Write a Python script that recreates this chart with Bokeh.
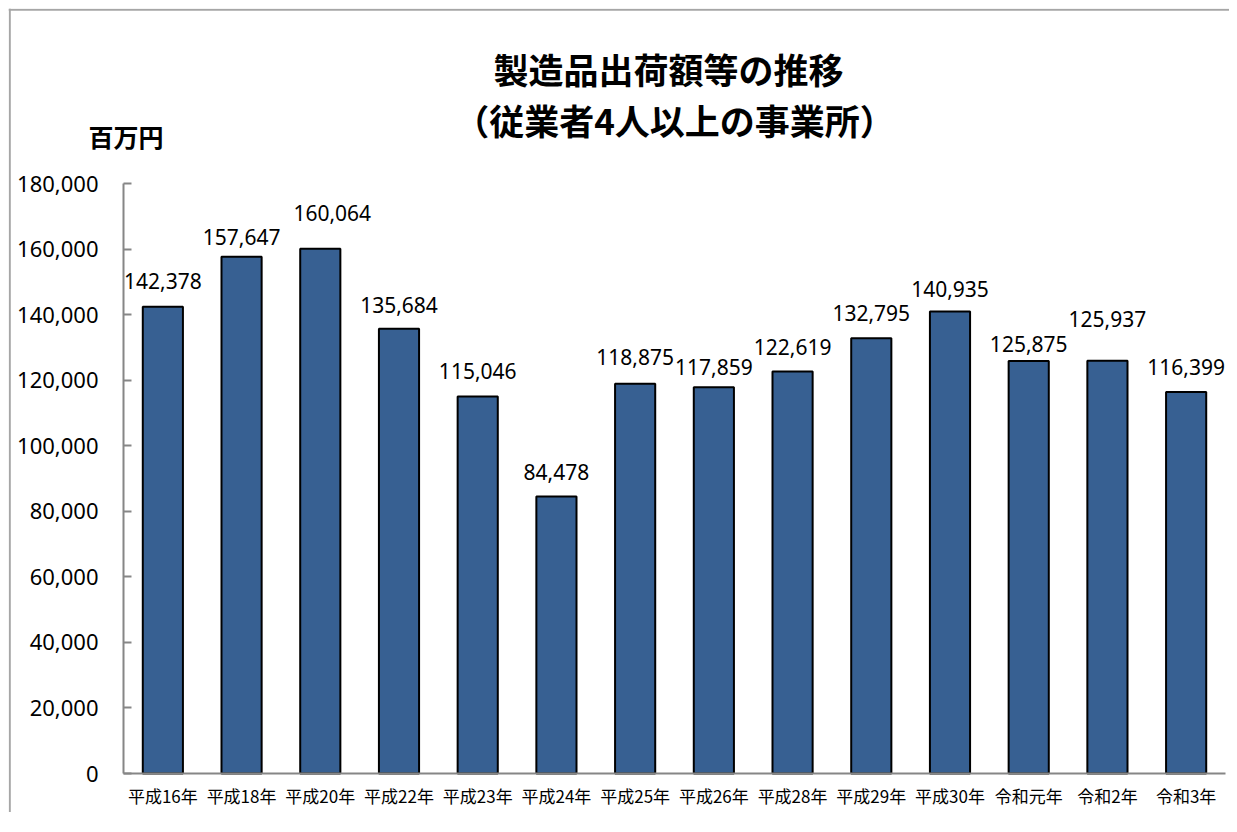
from bokeh.plotting import figure
from bokeh.models import (ColumnDataSource, Range1d, NumeralTickFormatter, FixedTicker, LinearAxis)
from bokeh.core.properties import value
from bokeh.embed import file_html
from bokeh.resources import INLINE

# ---- data ----
categories = ["平成16年", "平成18年", "平成20年", "平成22年", "平成23年", "平成24年", "平成25年",
              "平成26年", "平成28年", "平成29年", "平成30年", "令和元年", "令和2年", "令和3年"]
values = [142378, 157647, 160064, 135684, 115046, 84478, 118875,
          117859, 122619, 132795, 140935, 125875, 125937, 116399]
y_ticks = [0, 20000, 40000, 60000, 80000, 100000, 120000, 140000, 160000, 180000]
title_lines = ["製造品出荷額等の推移", "（従業者4人以上の事業所）"]
unit_label = "百万円"

# ---- layout / style (pixel offsets of value labels above bar tops) ----
label_dy = [26, 20, 36, 24, 25, 25, 27, 20, 25, 25, 23, 17, 42, 25]
label_dx = [0, 0, 12, 0, 0, 0, 0, 0, 0, 0, 0, 0, 0, 0]

W, H = 1221, 804
ORIGIN = 8                             # page px of canvas top-left (8px margin)
FL, FR, FT, FB = 123, 1225, 183, 773   # plot-area edges in page pixels
YMAX = y_ticks[-1]
N = len(categories)
BAR = "#376092"
AXIS = "#868686"
FRAME = "#a6a6a6"
CJK = "Noto Sans CJK JP"
LAT = "Noto Sans"

unit_px = (FR - FL) / N               # px per category
def dx(px):                            # page px -> data x (categories at 0..N-1)
    return (px - FL) / unit_px - 0.5
def dy(py):                            # page px -> data y
    return (FB - py) / (FB - FT) * YMAX

xs = list(range(N))

p = figure(
    x_range=Range1d(dx(ORIGIN), dx(ORIGIN + W)),
    y_range=Range1d(dy(ORIGIN + H), dy(ORIGIN)),
    width=W, height=H,
    output_backend="svg", toolbar_location=None,
    x_axis_type=None, y_axis_type=None,
    min_border=0, min_border_left=0, min_border_right=0, min_border_top=0, min_border_bottom=0,
    background_fill_color="white", border_fill_color="white",
)
p.styles = {"margin-top": "8px", "margin-left": "8px"}
p.outline_line_color = None

# outer chart-area border (top and left edges are visible in the window)
p.segment(x0=[dx(8), dx(9.3)], y0=[dy(9.3), dy(8)], x1=[dx(ORIGIN + W), dx(9.3)], y1=[dy(9.3), dy(ORIGIN + H)],
          line_color=FRAME, line_width=2)

src = ColumnDataSource(dict(
    x=xs, val=values,
    txt=[f"{v:,}" for v in values],
    ody=[-d for d in label_dy], odx=label_dx,
))

p.vbar(x="x", top="val", width=0.51, source=src,
       fill_color=BAR, line_color="black", line_width=2)

# axis lines (span the category area only)
p.segment(x0=[-0.5, -0.5], y0=[0, 0], x1=[N - 0.5, -0.5], y1=[0, YMAX],
          line_color=AXIS, line_width=2)

p.text(x="x", y="val", text="txt", source=src,
       x_offset="odx", y_offset="ody",
       text_align="center", text_baseline="middle",
       text_font=value(LAT), text_font_size="21px", text_color="black")

# y axis
ya = LinearAxis(fixed_location=-0.5, ticker=FixedTicker(ticks=y_ticks),
                formatter=NumeralTickFormatter(format="0,0"))
ya.major_label_text_font = LAT
ya.major_label_text_font_size = "22px"
ya.major_label_text_color = "black"
ya.major_label_standoff = 25
ya.major_tick_in = 8
ya.major_tick_out = 0
ya.minor_tick_line_color = None
ya.axis_line_color = None
ya.major_tick_line_color = AXIS
ya.major_tick_line_width = 2
p.add_layout(ya, "left")

# x axis (category labels)
xa = LinearAxis(fixed_location=0, ticker=FixedTicker(ticks=xs),
                major_label_overrides={i: c for i, c in zip(xs, categories)})
xa.major_label_text_font = CJK
xa.major_label_text_font_size = "17px"
xa.major_label_text_color = "black"
xa.major_label_standoff = 3
xa.major_tick_line_color = None
xa.minor_tick_line_color = None
xa.axis_line_color = None
p.add_layout(xa, "below")

# titles and unit
hsrc = ColumnDataSource(dict(
    t=[title_lines[0], title_lines[1], unit_label],
    x=[dx(668), dx(674), dx(125.5)],
    y=[dy(68), dy(119), dy(135)],
    s=["35px", "35px", "25px"],
))
p.text(x="x", y="y", text="t", source=hsrc, text_align="center", text_baseline="middle",
       text_font=value(CJK), text_font_style="bold", text_font_size="s", text_color="black")

open("out.html", "w").write(file_html(p, INLINE))
